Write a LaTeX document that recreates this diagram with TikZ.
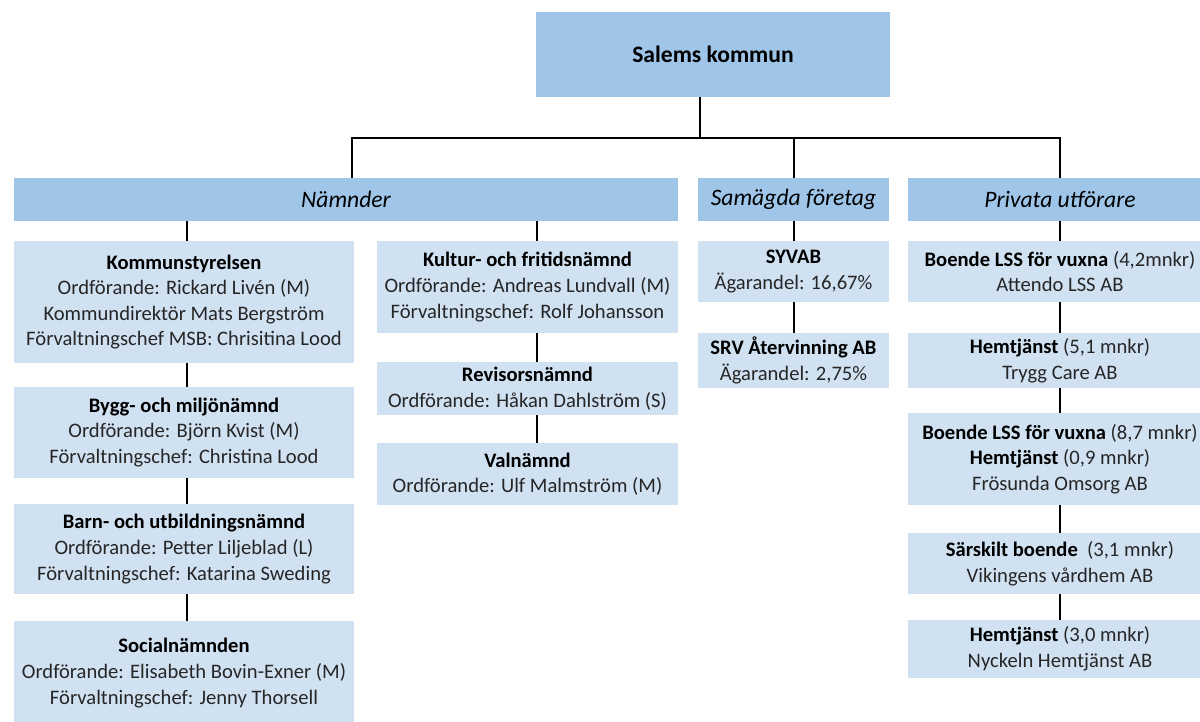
\documentclass[tikz,border=0pt]{standalone}
\usepackage{fontspec}
\setmainfont{Carlito}
\definecolor{hdr}{HTML}{9FC5E8}
\definecolor{lt}{HTML}{D0E1F2}
\definecolor{txt}{HTML}{262626}
\begin{document}
\begin{tikzpicture}[x=1pt,y=-1pt,
  box/.style={fill=lt,draw=none,inner sep=0pt,align=center,text=txt,
    font=\fontsize{20.6}{25.6}\selectfont},
  hbox/.style={fill=hdr,draw=none,inner sep=0pt,align=center,text=black,
    font=\fontsize{23.6}{28}\selectfont\itshape},
  conn/.style={draw=black,line width=1.6pt}]
\useasboundingbox (0,0) rectangle (1200,721);
\clip (0,0) rectangle (1200,721);
\fill[white] (0,0) rectangle (1200,721);
% top
\node[hbox,font=\fontsize{23.6}{28}\selectfont\bfseries,minimum width=354,minimum height=85] (top) at (713,54.5) {Salems kommun};
% headers
\node[hbox,minimum width=664,minimum height=43] (nam) at (346,199.5) {Nämnder};
\node[hbox,minimum width=191,minimum height=43] (sam) at (793.5,199.5) {Samägda företag};
\node[hbox,minimum width=304,minimum height=43] (priv) at (1060,199.5) {Privata utförare};
% left column
\node[box,minimum width=340,minimum height=122] (ks) at (184,302) {\textbf{\color{black}Kommunstyrelsen}\\Ordförande: Rickard Livén (M)\\Kommundirektör Mats Bergström\\Förvaltningschef MSB: Chrisitina Lood};
\node[box,minimum width=340,minimum height=91] (bm) at (184,432.5) {\textbf{\color{black}Bygg- och miljönämnd}\\Ordförande: Björn Kvist (M)\\Förvaltningschef: Christina Lood};
\node[box,minimum width=340,minimum height=90] (bu) at (184,549) {\textbf{\color{black}Barn- och utbildningsnämnd}\\Ordförande: Petter Liljeblad (L)\\Förvaltningschef: Katarina Sweding};
\node[box,minimum width=340,minimum height=104] (sn) at (184,673) {\textbf{\color{black}Socialnämnden}\\Ordförande: Elisabeth Bovin-Exner (M)\\Förvaltningschef: Jenny Thorsell};
% middle column
\node[box,minimum width=301,minimum height=92] (kf) at (527.5,287) {\textbf{\color{black}Kultur- och fritidsnämnd}\\Ordförande: Andreas Lundvall (M)\\Förvaltningschef: Rolf Johansson};
\node[box,minimum width=301,minimum height=53] (rn) at (527.5,388.5) {\textbf{\color{black}Revisorsnämnd}\\Ordförande: Håkan Dahlström (S)};
\node[box,minimum width=301,minimum height=62] (vn) at (527.5,474) {\textbf{\color{black}Valnämnd}\\Ordförande: Ulf Malmström (M)};
% samagda
\node[box,minimum width=191,minimum height=61] (sy) at (793.5,271.5) {\textbf{\color{black}SYVAB}\\Ägarandel: 16,67\%};
\node[box,minimum width=191,minimum height=55] (srv) at (793.5,360.5) {\textbf{\color{black}SRV Återvinning AB}\\Ägarandel: 2,75\%};
% privata
\node[box,minimum width=304,minimum height=61] (p1) at (1060,271.5) {\textbf{\color{black}Boende LSS för vuxna} (4,2mnkr)\\Attendo LSS AB};
\node[box,minimum width=304,minimum height=55] (p2) at (1060,360.5) {\textbf{\color{black}Hemtjänst} (5,1 mnkr)\\Trygg Care AB};
\node[box,minimum width=304,minimum height=92] (p3) at (1060,459) {\textbf{\color{black}Boende LSS för vuxna} (8,7 mnkr)\\\textbf{\color{black}Hemtjänst} (0,9 mnkr)\\Frösunda Omsorg AB};
\node[box,minimum width=304,minimum height=61] (p4) at (1060,563.5) {\textbf{\color{black}Särskilt boende}\ \ (3,1 mnkr)\\Vikingens vårdhem AB};
\node[box,minimum width=304,minimum height=58] (p5) at (1060,649) {\textbf{\color{black}Hemtjänst} (3,0 mnkr)\\Nyckeln Hemtjänst AB};
% bus coordinates
\coordinate (bt) at (700,138);
\coordinate (bl) at (352,138);
\coordinate (bs) at (794,138);
\coordinate (br) at (1060,138);
\coordinate (lx) at (187,0);
\coordinate (mx) at (537,0);
% connectors
\draw[conn] (top.south -| bt) -- (bt);
\draw[conn] (nam.north -| bl) -- (bl) -- (br) -- (priv.north -| br);
\draw[conn] (bs) -- (sam.north -| bs);
\draw[conn] (nam.south -| lx) -- (ks.north -| lx);
\draw[conn] (ks.south -| lx) -- (bm.north -| lx);
\draw[conn] (bm.south -| lx) -- (bu.north -| lx);
\draw[conn] (bu.south -| lx) -- (sn.north -| lx);
\draw[conn] (nam.south -| mx) -- (kf.north -| mx);
\draw[conn] (kf.south -| mx) -- (rn.north -| mx);
\draw[conn] (rn.south -| mx) -- (vn.north -| mx);
\draw[conn] (sam.south -| bs) -- (sy.north -| bs);
\draw[conn] (sy.south -| bs) -- (srv.north -| bs);
\draw[conn] (priv.south -| br) -- (p1.north -| br);
\draw[conn] (p1.south -| br) -- (p2.north -| br);
\draw[conn] (p2.south -| br) -- (p3.north -| br);
\draw[conn] (p3.south -| br) -- (p4.north -| br);
\draw[conn] (p4.south -| br) -- (p5.north -| br);
\end{tikzpicture}
\end{document}
